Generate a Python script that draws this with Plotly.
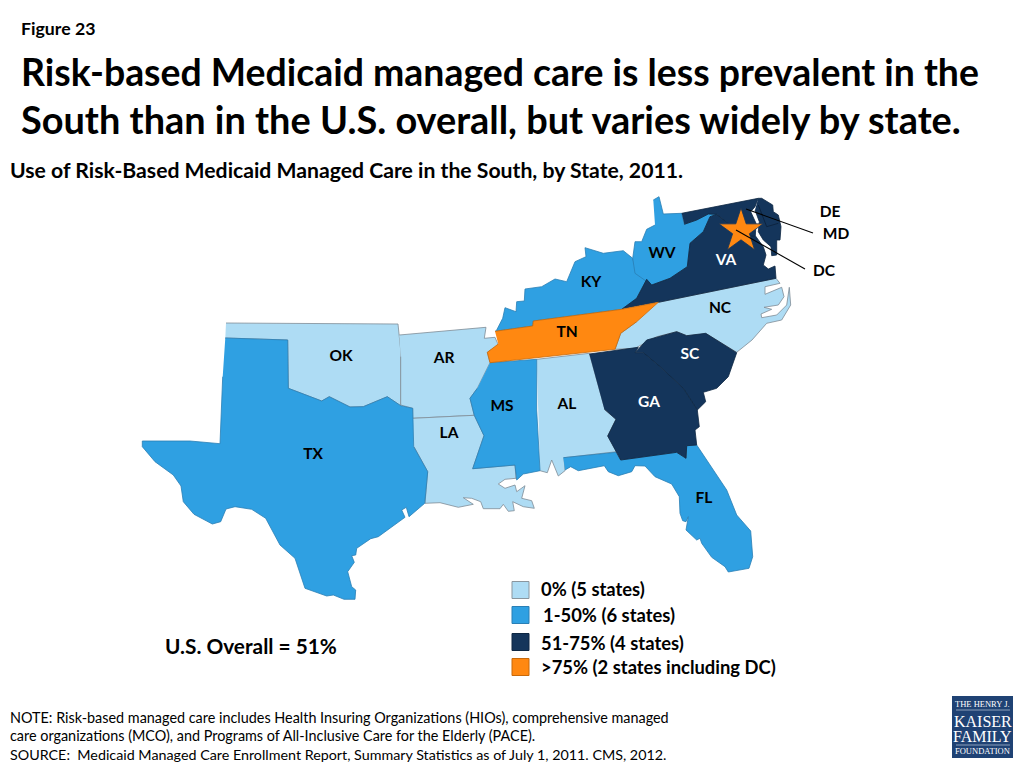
import plotly.graph_objects as go

# state outlines (x, y in slide pixels)
OK = [(226,323),(398,324),(400.7,350),(400.7,405.7),(387.3,396.7),(363.3,406.7),(350,407),(329.3,396.7),(321.7,401),(288.3,388.3),(287.7,340),(225.3,338)]
AR = [(399.3,335),(486,327.3),(484.3,338.3),(495,337.3),(498.3,345),(487.3,352.3),(490,362.7),(477.3,388.3),(470,398.3),(474.3,415.3),(412.7,418.3),(412.7,408.3),(400.7,405),(400.7,356.7)]
LA = [(412.7,418.3),(474.3,415.3),(484,435.7),(472.7,468.7),(515,465),(516,478.3),(505,479.3),(498.3,484),(505,488.3),(515,485),(516.7,491.7),(525,485.7),(521.7,498.3),(531.7,500.7),(534.3,508.3),(523.3,506.7),(512.7,501.7),(514.3,510.7),(508.3,511.3),(503.3,504.3),(500,508.7),(483.3,508.7),(480.7,501.7),(471.7,498.3),(463.3,497.7),(473.3,504.3),(458.3,507.3),(440,502.7),(425,503.3),(427.7,471.7),(414,446.7)]
AL = [(536.7,359.3),(589.3,353.3),(605,410),(616,419.3),(607.7,436),(616.7,451.7),(564,457.7),(565,470.7),(558.3,476),(551.7,460),(547.3,472.7),(540,470.7)]
NC = [(658.3,302.3),(776,278.3),(780,283.3),(765,286.7),(765,294.3),(781.7,287.3),(784,296.7),(778.3,305),(764,307.3),(771.7,309.3),(761,314),(761.7,317.7),(776.7,315),(786.7,305),(789.3,287.3),(790.7,305),(781.7,320),(766.7,323.3),(752,340),(736.7,352.3),(706.7,334),(686.7,335.7),(676.7,331.7),(656.7,336.7),(635,348.3),(615,349.3),(620.7,333.3),(636.7,321.7)]

TX = [(225.3,338),(287.7,340),(288.3,388.3),(321.7,401),(329.3,396.7),(350,407),(363.3,406.7),(387.3,396.7),(400.7,405.7),(412.7,408.3),(413.7,446.7),(427.7,471.7),(424.7,503.3),(409,516.7),(406.3,507.3),(401.7,510),(405,517.3),(378.3,536.7),(370.7,538.7),(356.7,548.3),(355.7,555),(351.7,555.7),(354.3,562.3),(347.7,571.7),(351.7,586.7),(355.7,590),(355,599.3),(344,599.3),(333.3,595),(326.7,596),(305,588.3),(295,558.3),(280,545),(265.7,518.3),(251.7,509.3),(235,506.7),(226,509),(220.7,521.7),(212.3,524),(194,514.3),(183.3,501.7),(181,486),(173.3,475),(155,461.7),(142.3,446.7),(142.3,441),(190,441),(220,443.7),(222.7,376.7)]
MS = [(490,362.7),(536.7,359.3),(536.7,410),(540,470.7),(523.3,474),(516.7,480),(515,465),(472.7,468.7),(484,435.7),(474.3,415.3),(470,398.3),(477.3,388.3)]
KY = [(496.7,330),(502.7,318.3),(505,307.7),(516,311.7),(516.7,301.7),(524.3,301),(525,289),(541.7,286.7),(555,279),(566.7,281.7),(575,261.7),(586,256.7),(585,247.7),(603.3,253.3),(623.3,250.7),(632.7,258.3),(636.7,273.3),(646.7,279.3),(636.7,298.3),(621.7,309.3),(533.3,321),(532.7,326),(495,331.3)]
WV = [(653.3,200),(659,196.7),(663.3,214),(681.7,213.3),(684.3,224.3),(696.7,220),(708.3,214),(716.7,214.3),(710,216.7),(703.3,231.7),(690,243.3),(687.3,266.7),(670,278.3),(651.7,285),(635,273.3),(632.7,258.3),(635,241.7),(641.7,241.7),(646.7,229.3),(655,225)]
FL = [(563.3,457.7),(616,452.3),(620.7,460),(676.7,452.3),(686,458.3),(686.7,445.7),(696.7,445),(726.7,490),(736.7,515),(750.7,531),(752.7,556.7),(749,568.3),(728.3,572),(725,566.7),(711.7,557.3),(701.7,543.3),(700,538.3),(696.7,540),(686,530),(688.3,516.7),(686,521.7),(682.7,520.7),(680,513.3),(679.3,496.7),(671.7,484),(655,476.7),(645,466),(635,465.7),(631.7,471.7),(618.3,475.7),(608.3,471.7),(604.3,465.7),(578.3,470.7),(570.7,466.7),(565,470)]

VA = [(621.7,309.3),(636.7,298.3),(646.7,279.3),(651.7,285),(670,278.3),(687.3,266.7),(690,243.3),(703.3,231.7),(710,216.7),(716.7,214.3),(728.3,223.3),(736.7,228.3),(743.3,236.7),(755.3,235.7),(763.3,246.7),(766,255),(763.3,265),(768.3,269),(775,266),(776,278.3),(658.3,302.3)]
MD = [(681.7,213.3),(758.3,198.3),(755,206.7),(750.7,211.7),(756,223.3),(755.3,235.7),(743.3,236.7),(736.7,228.3),(728.3,223.3),(716.7,214.3),(708.3,214),(696.7,220),(684.3,224.3)]
DE = [(758.3,198.3),(761.7,198.3),(772.7,205),(773.3,211.7),(778.3,215),(781,226.7),(780,240),(776.7,240),(776.7,255),(771.7,255.7),(771,246.7),(763.3,240),(758.3,231.7),(759.3,221.7),(755,210)]
SC = [(635,352.7),(646.7,340),(676.7,331.7),(686.7,335.7),(705.7,333.3),(736.7,352.7),(728.3,376.7),(716.7,388.3),(703.3,392.3),(705.7,401.7),(697.3,410),(683.3,388.3),(660,366.7),(643.3,352.7)]
GA = [(589.3,354),(638.3,347.3),(635,352.7),(643.3,352.7),(660,366.7),(683.3,388.3),(697.3,410),(699.3,426.7),(695,430),(696.7,445),(686.7,445.7),(686,458.3),(676.7,452.3),(620.7,460),(607.7,436),(616,419.3),(604.3,409)]

TN = [(495,331.3),(532.7,326),(533.3,321),(621.7,309.3),(658.3,302.3),(636.7,321.7),(620.7,333.3),(615,349.3),(490,362.7),(487.3,352.3),(498.3,344)]

# categories
legend_labels = ['0% (5 states)', '1-50% (6 states)', '51-75% (4 states)', '>75% (2 states including DC)']
colors = ['#AEDCF4', '#2FA0E2', '#14355B', '#FF8811']
edges = ['#7F8C96', '#2A7FB5', '#0E2743', '#C8690A']
groups = [[OK, AR, LA, AL, NC], [TX, MS, KY, WV, FL], [VA, MD, DE, SC, GA], [TN]]

label_names = ['OK', 'AR', 'TN', 'KY', 'WV', 'NC', 'MS', 'AL', 'LA', 'TX', 'FL', 'DE', 'MD', 'DC']
label_x = [341, 444, 567, 591, 662, 720, 502, 567, 449, 313, 704, 830, 836, 824]
label_y = [357, 359, 333, 283, 254, 309, 407, 405, 434, 455, 499, 213, 235, 272]
white_names = ['VA', 'SC', 'GA']
white_x = [726, 690, 649]
white_y = [261, 355, 403]

font = 'Lato'

fig = go.Figure()

for color, edge, group in zip(colors, edges, groups):
    for state in group:
        xs = [p[0] for p in state]
        ys = [p[1] for p in state]
        fig.add_trace(go.Scatter(x=xs, y=ys, mode='lines', fill='toself', fillcolor=color,
                                 line=dict(color=edge, width=0.8), hoverinfo='skip'))

# boundary lines inside the dark shapes
fig.add_trace(go.Scatter(x=[758.3, 766.7, 778.3], y=[205, 226.7, 223.3], mode='lines',
                         line=dict(color='#0B2038', width=0.8), hoverinfo='skip'))

# DC star
fig.add_trace(go.Scatter(x=[741], y=[231], mode='markers', hoverinfo='skip',
                         marker=dict(symbol='star', size=33, color='#FF8811',
                                     line=dict(color='#14355B', width=0.8))))

# leader lines
fig.add_trace(go.Scatter(x=[746, 813], y=[209, 233], mode='lines',
                         line=dict(color='black', width=1.1), hoverinfo='skip'))
fig.add_trace(go.Scatter(x=[736, 805], y=[230, 269], mode='lines',
                         line=dict(color='black', width=1.1), hoverinfo='skip'))

fig.add_trace(go.Scatter(x=label_x, y=label_y, mode='text', text=label_names, hoverinfo='skip',
                         textfont=dict(family=font, size=15.5, color='black', weight='bold')))
fig.add_trace(go.Scatter(x=white_x, y=white_y, mode='text', text=white_names, hoverinfo='skip',
                         textfont=dict(family=font, size=15.5, color='white', weight='bold')))

# legend squares
fig.add_trace(go.Scatter(x=[520.5] * 4, y=[590, 615, 642, 667], mode='markers', hoverinfo='skip',
                         marker=dict(symbol='square', size=17, color=colors,
                                     line=dict(color=['#8A969E', '#2A7FB5', '#0E2743', '#C8690A'], width=1))))

def add_text(x, y, text, size, bold=True, color='black', family=font):
    # annotations sit about 2px right of their anchor
    fig.add_annotation(x=x - 2, y=y, xref='x', yref='y', text=f'<b>{text}</b>' if bold else text,
                       showarrow=False, xanchor='left', yanchor='middle',
                       font=dict(family=family, size=size, color=color), align='left')

add_text(21, 28, 'Figure 23', 17.7)
add_text(21, 71, 'Risk-based Medicaid managed care is less prevalent in the', 37.4)
add_text(21, 119, 'South than in the U.S. overall, but varies widely by state.', 37.9)
add_text(10, 170, 'Use of Risk-Based Medicaid Managed Care in the South, by State, 2011.', 21.2)

for x, y, label in zip([541, 543, 541, 541], [589, 615, 643, 667], legend_labels):
    add_text(x, y, label, 18.4)

add_text(165, 645, 'U.S. Overall = 51%', 20.8)

add_text(10, 717, 'NOTE: Risk-based managed care includes Health Insuring Organizations (HIOs), comprehensive managed', 14.4, bold=False)
add_text(10, 735, 'care organizations (MCO), and Programs of All-Inclusive Care for the Elderly (PACE).', 14.4, bold=False)
add_text(10, 754, 'SOURCE:  Medicaid Managed Care Enrollment Report, Summary Statistics as of July 1, 2011. CMS, 2012.', 14.3, bold=False)

# foundation logo
fig.add_shape(type='rect', x0=952, y0=696, x1=1013, y1=758, fillcolor='#1F4274', line_width=0, layer='above')
fig.add_shape(type='line', x0=956, y0=710, x1=1010, y1=710, line=dict(color='#B9C6D8', width=0.7))
fig.add_shape(type='line', x0=956, y0=745, x1=1010, y1=745, line=dict(color='#B9C6D8', width=0.7))
for y, text, size in [(704, 'THE HENRY J.', 8.5), (721, 'KAISER', 16), (736, 'FAMILY', 16), (751, 'FOUNDATION', 8.5)]:
    fig.add_annotation(x=982.5, y=y, xref='x', yref='y', text=text, showarrow=False,
                       font=dict(family='Liberation Serif', size=size, color='white'))

fig.update_layout(
    width=1024,
    height=768,
    margin=dict(l=0, r=0, t=0, b=0),
    paper_bgcolor='white',
    plot_bgcolor='white',
    showlegend=False,
    xaxis=dict(range=[0, 1024], visible=False, fixedrange=True),
    yaxis=dict(range=[768, 0], visible=False, fixedrange=True),
)

fig.write_html("out.html", config={'displayModeBar': False},
               post_script="document.body.style.margin='0';")
